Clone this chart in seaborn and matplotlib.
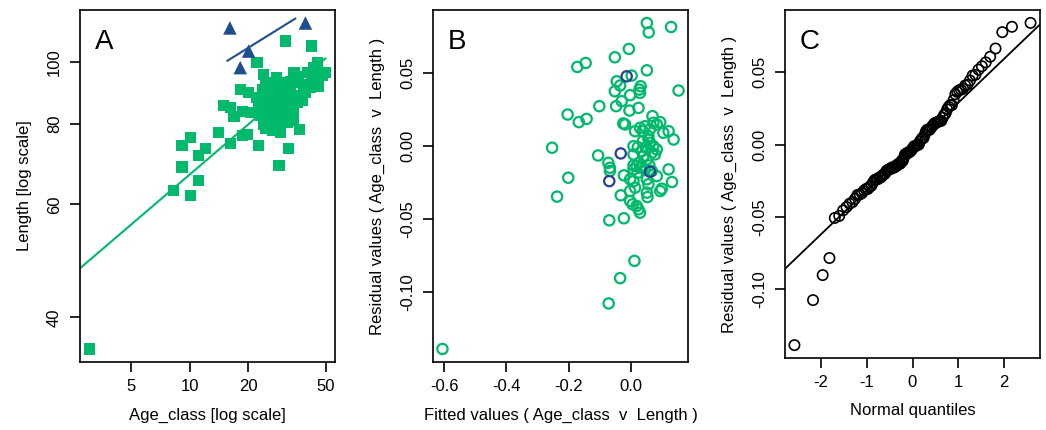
import numpy as np
import pandas as pd
import matplotlib
matplotlib.use("Agg")
import matplotlib.pyplot as plt
import seaborn as sns
from statistics import NormalDist

# ---------------- Panel A data (log-log scatter) ----------------
green_age = [3.05, 8.27, 10.1, 11.1, 9.13, 11.1, 9.13, 10.1, 12.0, 14.1, 16.2, 19.75, 18.6, 22.7,
             28.8, 32.1, 36.9, 31.1, 42.3,
             22.2, 24.0, 24.5, 25.0, 34.4, 35.9, 33.0, 31.8, 40.3, 43.6, 45.3, 50.0, 44.4, 46.2,
             41.9, 39.5, 37.2, 36.0, 37.9, 34.2,
             18.25, 20.1, 22.2, 15.0, 16.2, 16.9, 18.6, 20.5, 22.7,
             24.0, 25.5, 27.1, 28.8, 29.9, 28.1, 26.6, 25.0, 24.5, 26.0, 24.5, 26.6, 28.1, 29.3,
             27.6, 29.9, 31.8, 33.0, 31.1, 33.0, 34.2, 29.3, 31.8, 34.2, 27.1, 30.5, 25.5, 23.6,
             23.1, 27.6, 25.5, 24.0, 28.8, 27.1, 33.0, 35.0,
             30.5, 32.5, 26.0, 28.1, 36.4, 38.6, 42.6, 48.1]
green_len = [35.7, 63.1, 62.0, 65.4, 68.6, 71.5, 74.1, 76.3, 73.2, 77.7, 74.6, 77.2, 76.8, 74.1,
             69.0, 73.3, 78.4, 107.8, 105.9,
             99.8, 95.7, 92.4, 89.1, 96.3, 95.0, 93.3, 91.2, 96.3, 98.0, 99.8, 96.3, 93.3, 91.7,
             91.2, 89.6, 88.1, 86.5, 87.0, 84.0,
             90.7, 89.6, 88.1, 85.5, 85.0, 82.2, 83.8, 83.5, 84.5,
             86.0, 87.0, 89.1, 90.7, 88.6, 87.0, 85.0, 83.5, 81.5, 80.5, 78.7, 78.2, 79.1, 81.0,
             82.5, 84.0, 85.5, 87.6, 82.0, 82.5, 85.9, 77.7, 80.5, 81.0, 92.9, 92.9, 91.2, 90.7,
             82.5, 81.0, 82.0, 80.0, 85.5, 83.9, 89.6, 88.5,
             87.0, 84.0, 89.1, 94.6, 92.9, 92.3, 94.6, 95.2]
blue_age = [16.1, 20.1, 18.2, 39.4]
blue_len = [113.0, 104.0, 98.0, 115.0]

# fitted SMA lines (end points)
green_line_age = [2.73, 50.0]
green_line_len = [47.7, 101.3]
blue_line_age = [15.6, 35.0]
blue_line_len = [100.4, 116.9]

a_xticks = [5, 10, 20, 50]
a_yticks = [40, 60, 80, 100]

# ---------------- Panel B data (residuals vs fitted) ----------------
green_fitted = [-0.606, -0.253, -0.237, -0.201, -0.203, -0.167, -0.142, -0.172, -0.145, -0.101,
                -0.105, -0.072, -0.067, -0.067, -0.069, -0.071, -0.034, 0.012, -0.022, -0.051,
                -0.006, 0.052, 0.058, 0.130, 0.154, 0.052, -0.045, -0.034, -0.051, -0.029,
                -0.047, -0.002, -0.004, 0.025, 0.032, 0.030, 0.003, -0.024, 0.014, 0.030,
                0.046, 0.070, 0.084, 0.095, 0.062, 0.122, 0.138, 0.057, 0.062, 0.009,
                0.023, 0.049, 0.084, 0.078, 0.041, 0.052, 0.027, 0.009, 0.030, 0.046,
                0.009, -0.022, -0.002, 0.052, 0.084, 0.122, 0.133, 0.100, 0.095, 0.052,
                0.054, 0.014, -0.032, -0.002, 0.006, 0.025, 0.030, 0.019, 0.068, 0.039,
                0.057, 0.073, 0.019, -0.002, 0.060, 0.068, -0.018, 0.028, 0.035, 0.009,
                0.057, 0.073, 0.039, 0.022, 0.105, 0.009]
green_resid = [-0.1386, -0.0011, -0.0345, -0.0216, 0.0216, 0.0164, 0.0186, 0.0541, 0.0568, 0.0273,
               -0.0064, -0.0114, -0.0148, -0.0170, -0.0507, -0.1075, -0.0902, -0.0784, -0.0493, 0.0607,
               0.0664, 0.0841, 0.0777, 0.0814, 0.0380, 0.0518, 0.0443, 0.0414, 0.0375, 0.0307,
               0.0273, 0.0348, 0.0243, 0.0261, 0.0409, 0.0364, 0.0482, 0.0155, 0.0102, 0.0125,
               0.0136, 0.0205, 0.0148, 0.0164, 0.0114, 0.0102, 0.0045, 0.0045, 0.0023, 0.0000,
               -0.0007, -0.0011, -0.0023, -0.0057, -0.0068, -0.0091, -0.0114, -0.0132, -0.0148, -0.0159,
               -0.0159, -0.0200, -0.0227, -0.0227, -0.0205, -0.0159, -0.0245, -0.0291, -0.0307, -0.0318,
               -0.0348, -0.0284, -0.0336, -0.0375, -0.0398, -0.0432, -0.0455, -0.0409, -0.0045, 0.0034,
               0.0068, 0.0159, -0.0136, -0.0307, -0.0132, -0.0170, 0.0148, 0.0386, -0.0034, -0.0057,
               -0.0261, 0.0000, 0.0102, -0.0182, 0.0091, -0.0239]
blue_fitted = [-0.013, -0.032, -0.069, 0.062]
blue_resid = [0.0477, -0.0050, -0.0239, -0.0175]

b_xticks = [-0.6, -0.4, -0.2, 0.0]
b_xlabels = ["-0.6", "-0.4", "-0.2", "0.0"]
res_ticks = [-0.10, -0.05, 0.00, 0.05]
res_labels = ["-0.10", "-0.05", "0.00", "0.05"]
c_xticks = [-2, -1, 0, 1, 2]

GREEN = "#00B96B"
BLUE = "#1F4E8C"
BLUE_C = "#2A3F96"

sns.set_theme(style="ticks")
plt.rcParams['font.family'] = ['Liberation Sans', 'DejaVu Sans']
plt.rcParams['axes.linewidth'] = 1.2
plt.rcParams['xtick.major.width'] = 1.2
plt.rcParams['ytick.major.width'] = 1.2

FS = 12

fig = plt.figure(figsize=(10.46, 4.30), dpi=100)
W, H = 1046, 430
def add_axes(l, r, t, b):
    return fig.add_axes([l / W, (H - b) / H, (r - l) / W, (b - t) / H])

axA = add_axes(80, 335, 10, 362)
axB = add_axes(433, 688, 10, 362)
axC = add_axes(785, 1040, 10, 358)

def rlim(vals, log=False):
    v = np.asarray(vals, dtype=float)
    if log:
        v = np.log10(v)
    lo, hi = v.min(), v.max()
    pad = 0.04 * (hi - lo)
    lo, hi = lo - pad, hi + pad
    if log:
        return 10 ** lo, 10 ** hi
    return lo, hi

# ---------------- Panel A ----------------
dfA_g = pd.DataFrame({"age": green_age, "len": green_len})
dfA_b = pd.DataFrame({"age": blue_age, "len": blue_len})
axA.set_xscale("log")
axA.set_yscale("log")
sns.lineplot(x=green_line_age, y=green_line_len, ax=axA, color=GREEN, lw=1.5, sort=False)
sns.lineplot(x=blue_line_age, y=blue_line_len, ax=axA, color=BLUE, lw=1.5, sort=False)
sns.scatterplot(data=dfA_g, x="age", y="len", ax=axA, marker="s", s=64, color=GREEN,
                edgecolor="none", linewidth=0)
sns.scatterplot(data=dfA_b, x="age", y="len", ax=axA, marker="^", s=95, color=BLUE,
                edgecolor="none", linewidth=0)
axA.set_xlim(*rlim(green_age + blue_age, log=True))
axA.set_ylim(*rlim(green_len + blue_len, log=True))
axA.set_xticks(a_xticks)
axA.set_xticklabels([str(t) for t in a_xticks])
axA.set_yticks(a_yticks)
axA.set_yticklabels([str(t) for t in a_yticks])
axA.minorticks_off()
axA.set_xlabel("Age_class [log scale]", fontsize=FS)
axA.set_ylabel("Length [log scale]", fontsize=FS)

# ---------------- Panel B ----------------
dfB_g = pd.DataFrame({"fit": green_fitted, "res": green_resid})
dfB_b = pd.DataFrame({"fit": blue_fitted, "res": blue_resid})
sns.scatterplot(data=dfB_g, x="fit", y="res", ax=axB, marker="o", s=55, facecolor="none",
                edgecolor=GREEN, linewidth=1.6)
sns.scatterplot(data=dfB_b, x="fit", y="res", ax=axB, marker="o", s=55, facecolor="none",
                edgecolor=BLUE_C, linewidth=1.6)
all_fit = green_fitted + blue_fitted
all_res = green_resid + blue_resid
axB.set_xlim(*rlim(all_fit))
axB.set_ylim(*rlim(all_res))
axB.set_xticks(b_xticks)
axB.set_xticklabels(b_xlabels)
axB.set_yticks(res_ticks)
axB.set_yticklabels(res_labels)
axB.set_xlabel("Fitted values ( Age_class  v  Length )", fontsize=FS)
axB.set_ylabel("Residual values ( Age_class  v  Length )", fontsize=FS)

# ---------------- Panel C (normal QQ of residuals) ----------------
n = len(all_res)
sorted_res = np.sort(np.asarray(all_res))
a = 3 / 8 if n <= 10 else 0.5
theo = np.array([NormalDist().inv_cdf((i + 1 - a) / (n + 1 - 2 * a)) for i in range(n)])
dfC = pd.DataFrame({"q": theo, "r": sorted_res})
sns.scatterplot(data=dfC, x="q", y="r", ax=axC, marker="o", s=55, facecolor="none",
                edgecolor="black", linewidth=1.2)
q1, q3 = np.percentile(sorted_res, [25, 75])
z1, z3 = NormalDist().inv_cdf(0.25), NormalDist().inv_cdf(0.75)
slope = (q3 - q1) / (z3 - z1)
icpt = q1 - slope * z1
axC.axline((0, icpt), slope=slope, color="black", lw=1.3)
axC.set_xlim(*rlim(theo))
axC.set_ylim(*rlim(all_res))
axC.set_xticks(c_xticks)
axC.set_xticklabels([str(t) for t in c_xticks])
axC.set_yticks(res_ticks)
axC.set_yticklabels(res_labels)
axC.set_xlabel("Normal quantiles", fontsize=FS)
axC.set_ylabel("Residual values ( Age_class  v  Length )", fontsize=FS)

for ax, letter in zip([axA, axB, axC], ["A", "B", "C"]):
    ax.grid(False)
    for sp in ax.spines.values():
        sp.set_visible(True)
        sp.set_color("black")
    ax.tick_params(axis="both", which="major", length=7, color="black", labelsize=FS,
                   labelcolor="black")
    ax.tick_params(axis="x", pad=5)
    ax.tick_params(axis="y", pad=6, labelrotation=90)
    for lbl in ax.get_yticklabels():
        lbl.set_va("center")
    ax.xaxis.label.set_color("black")
    ax.yaxis.label.set_color("black")
    ax.text(0.058, 0.945, letter, transform=ax.transAxes, fontsize=20, ha="left", va="top",
            color="black")

for ax in [axA, axB, axC]:
    ax.yaxis.set_label_coords(-0.19, 0.5)
    ax.xaxis.set_label_coords(0.5, -0.13)

fig.savefig("out.png", dpi=100)
